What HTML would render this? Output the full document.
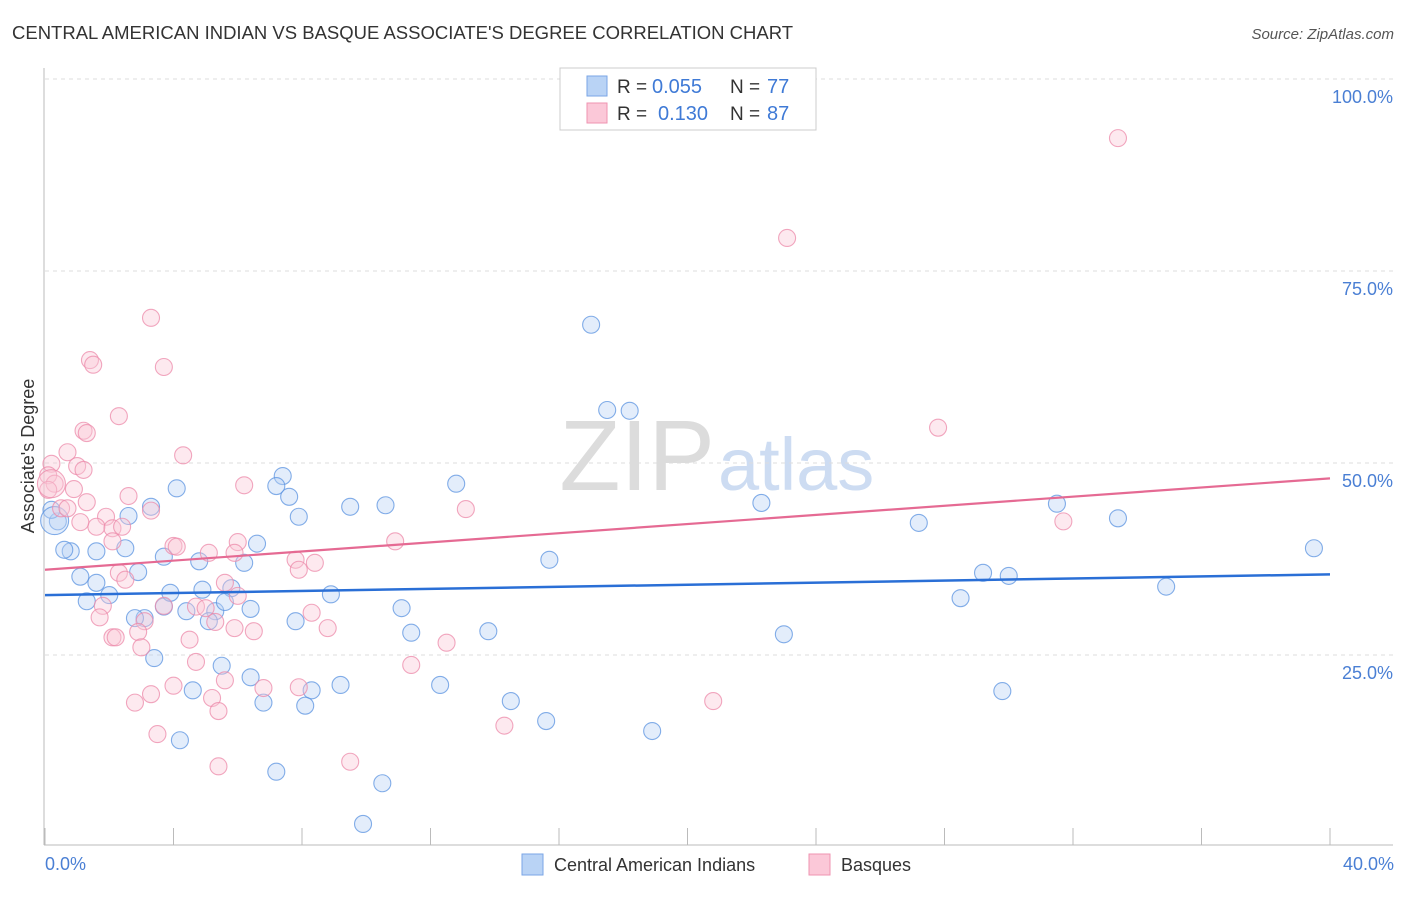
<!DOCTYPE html>
<html><head><meta charset="utf-8"><style>
body{margin:0;background:#fff;font-family:"Liberation Sans",sans-serif;}
svg text{font-family:"Liberation Sans",sans-serif;}
</style></head><body>
<svg id="chart" width="1406" height="892" viewBox="0 0 1406 892" xmlns="http://www.w3.org/2000/svg">
<text x="12" y="39" font-size="18.5" fill="#333">CENTRAL AMERICAN INDIAN VS BASQUE ASSOCIATE'S DEGREE CORRELATION CHART</text>
<text x="1394" y="39" font-size="15" fill="#555" font-style="italic" text-anchor="end">Source: ZipAtlas.com</text>
<text x="715" y="490" font-size="100" fill="#dcdcdc" text-anchor="end" font-family="Liberation Serif">ZIP</text>
<text x="718" y="490" font-size="74" fill="#cddcf2">atlas</text>
<g id="grid"></g>
<g id="axes"></g>
<g id="pts"></g>
<g id="trends"></g>
<text x="34" y="456" font-size="18" fill="#333" text-anchor="middle" transform="rotate(-90 34 456)">Associate's Degree</text>
<text x="45" y="870" font-size="18" fill="#4a7fd4">0.0%</text>
<text x="1394" y="870" font-size="18" fill="#4a7fd4" text-anchor="end">40.0%</text>
<g>
<rect x="560" y="68" width="256" height="62" fill="#fff" stroke="#ccc"/>
<rect x="587" y="76" width="20" height="20" fill="#b9d3f5" stroke="#7aa6e6"/>
<rect x="587" y="103" width="20" height="20" fill="#fbc8d8" stroke="#ef93b1"/>
<text x="617" y="93" font-size="19" fill="#333">R = </text><text x="652" y="93" font-size="20" fill="#3f7ad6">0.055</text>
<text x="730" y="93" font-size="19" fill="#333">N = </text><text x="767" y="93" font-size="20" fill="#3f7ad6">77</text>
<text x="617" y="120" font-size="19" fill="#333">R = </text><text x="658" y="120" font-size="20" fill="#3f7ad6">0.130</text>
<text x="730" y="120" font-size="19" fill="#333">N = </text><text x="767" y="120" font-size="20" fill="#3f7ad6">87</text>
</g>
<g>
<rect x="522" y="854" width="21" height="21" fill="#b9d3f5" stroke="#7aa6e6"/>
<text x="554" y="871" font-size="18" fill="#333">Central American Indians</text>
<rect x="809" y="854" width="21" height="21" fill="#fbc8d8" stroke="#ef93b1"/>
<text x="841" y="871" font-size="18" fill="#333">Basques</text>
</g>
</svg>
<script>
const yTicks=[25,50,75,100];
const yTickLabels=["25.0%","50.0%","75.0%","100.0%"];
const xTicks=[0,4,8,12,16,20,24,28,32,36,40];
const blueX=[17.0,17.5,18.2,22.3,12.8,10.6,9.5,7.4,7.2,7.6,7.9,4.1,3.3,2.6,2.5,1.6,0.8,0.6,0.4,0.2,1.1,1.6,2.0,1.3,2.9,3.7,4.8,6.2,6.6,3.1,2.8,3.7,4.4,5.3,4.9,5.8,5.6,6.4,5.1,3.9,8.9,11.1,11.4,13.8,15.7,7.8,5.5,6.4,6.8,4.6,3.4,4.2,8.3,8.1,9.2,7.2,10.5,9.9,12.3,14.5,15.6,18.9,23.0,27.2,28.5,29.2,30.0,29.8,31.5,33.4,34.9,39.5,0.3];
const blueY=[68.0,56.9,56.8,44.8,47.3,44.5,44.3,48.3,47.0,45.6,43.0,46.7,44.3,43.1,38.9,38.5,38.5,38.7,42.4,43.9,35.2,34.4,32.8,32.0,35.8,37.8,37.2,37.0,39.5,29.8,29.8,31.3,30.7,30.7,33.5,33.7,31.9,31.0,29.4,33.1,32.9,31.1,27.9,28.1,37.4,29.4,23.6,22.1,18.8,20.4,24.6,13.9,20.4,18.4,21.1,9.8,8.3,3.0,21.1,19.0,16.4,15.1,27.7,42.2,32.4,35.7,35.3,20.3,44.7,42.8,33.9,38.9,42.5];
const pinkX=[33.4,23.1,27.8,31.7,20.8,14.3,3.3,1.4,1.5,3.7,2.3,1.2,1.3,0.7,4.3,0.2,1.0,1.2,0.1,0.3,0.9,1.3,0.5,0.7,0.1,2.6,3.3,1.9,1.6,1.1,2.1,2.4,2.1,4.0,4.1,6.0,5.1,5.9,2.3,2.5,5.6,6.0,1.8,1.7,3.1,2.9,2.1,2.2,3.0,4.5,4.7,5.0,3.7,5.3,5.9,6.5,7.8,7.9,8.4,10.9,13.1,6.2,8.3,8.8,12.5,11.4,4.7,5.6,4.0,6.8,7.9,3.3,2.8,5.2,5.4,3.5,5.4,9.5,0.2];
const pinkY=[92.3,79.3,54.6,42.4,19.0,15.8,68.9,63.4,62.8,62.5,56.1,54.2,53.9,51.4,51.0,49.9,49.6,49.1,48.4,47.3,46.6,44.9,44.1,44.1,46.5,45.7,43.8,43.0,41.7,42.3,41.5,41.7,39.8,39.2,39.1,39.7,38.3,38.3,35.7,34.8,34.4,32.7,31.4,29.9,29.4,28.0,27.3,27.3,26.0,27.0,31.3,31.1,31.4,29.3,28.5,28.1,37.4,36.1,37.0,39.8,44.0,47.1,30.5,28.5,26.6,23.7,24.1,21.7,21.0,20.7,20.8,19.9,18.8,19.4,17.7,14.7,10.5,11.1,47.3];
const blueTrend=[32.8,35.5];
const pinkTrend=[36.1,48.0];
const NS="http://www.w3.org/2000/svg";
const X0=45,X1=1330,Y0=847,Y100=79;
function sx(v){return X0+(v/40)*(X1-X0);}
function sy(v){return Y0-(v/100)*(Y0-Y100);}
function mk(t,a,parent){const e=document.createElementNS(NS,t);for(const k in a)e.setAttribute(k,a[k]);document.getElementById(parent).appendChild(e);return e;}
yTicks.forEach((t,i)=>{
 const l=mk('line',{x1:45,x2:1393,y1:sy(t),y2:sy(t),stroke:'#ddd','stroke-dasharray':'4,4'},'grid');
 
 
 const tx=mk('text',{x:1393,y:sy(t)+24,'font-size':18,fill:'#4a7fd4','text-anchor':'end'},'grid');
 tx.textContent=yTickLabels[i];
 
 
});
const ax=mk('line',{x1:44,x2:44,y1:68,y2:845,stroke:'#bbb'},'axes');


const bx=mk('line',{x1:44,x2:1393,y1:845,y2:845,stroke:'#bbb'},'axes');


xTicks.forEach(t=>{
 const l=mk('line',{x1:sx(t),x2:sx(t),y1:828,y2:845,stroke:'#bbb'},'axes');
 
 
});
function drawPts(xs,ys,fill,stroke,name,bigLast){
 xs.forEach((x,i)=>{
  const big=bigLast&&i===xs.length-1;
  const c=mk('circle',{cx:sx(x),cy:sy(ys[i]),r:big?14:8.5,fill:fill,'fill-opacity':0.4,stroke:stroke,'stroke-opacity':0.75,'stroke-width':1.1},'pts');
  
  
 });
}
drawPts(blueX,blueY,'#b9d3f5','#5b93e0','blue-point',true);
drawPts(pinkX,pinkY,'#fbc8d8','#ec8aa9','pink-point',true);
const bt=mk('line',{x1:sx(0),x2:sx(40),y1:sy(blueTrend[0]),y2:sy(blueTrend[1]),stroke:'#2a6fd6','stroke-width':2.5},'trends');


const pt=mk('line',{x1:sx(0),x2:sx(40),y1:sy(pinkTrend[0]),y2:sy(pinkTrend[1]),stroke:'#e56a93','stroke-width':2.2},'trends');


</script>
</body></html>
